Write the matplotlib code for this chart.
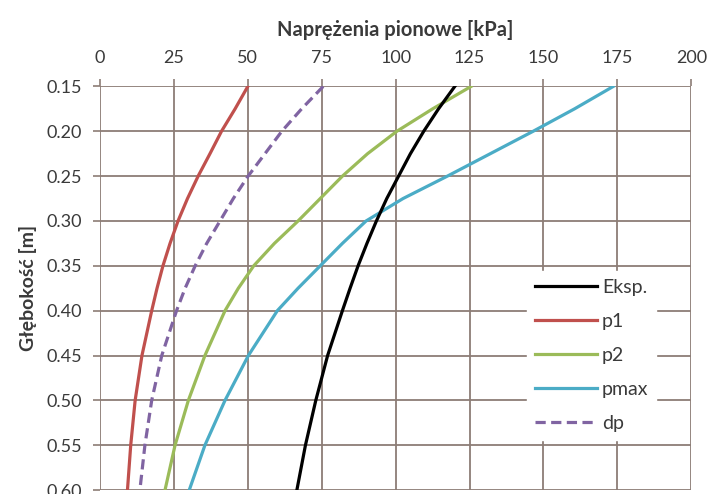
import numpy as np
import matplotlib.pyplot as plt

plt.rcParams['font.family'] = ['Lato', 'DejaVu Sans']

# depth [m]
depth = [0.15, 0.175, 0.20, 0.225, 0.25, 0.275, 0.30, 0.325, 0.35, 0.375,
         0.40, 0.45, 0.50, 0.55, 0.60]

# vertical stresses [kPa]
eksp = [120, 114.5, 109.5, 105, 101, 97, 93.5, 90.3, 87.3, 84.6, 82, 77, 73, 69.5, 66.6]
p1 = [50, 45.7, 41.1, 37.2, 33.2, 29.6, 26.4, 23.7, 21.3, 19.3, 17.5, 14.2, 11.9, 10.4, 9.3]
p2 = [125.5, 112.5, 100.4, 90.5, 82, 74.5, 67, 59, 52, 46.8, 42.3, 35.5, 29.9, 25.4, 22]
pmax = [173.6, 160.5, 146.5, 132, 117.5, 102.5, 90, 82, 74.5, 67, 60, 50.2, 42.3, 35.5, 30.2]
dp = [75.5, 68.2, 61.5, 55.8, 50.1, 45.1, 40.6, 36.1, 32.2, 28.8, 25.9, 20.9, 17.5, 15.2, 13.5]

xticks = [0, 25, 50, 75, 100, 125, 150, 175, 200]
yticks = [0.15, 0.20, 0.25, 0.30, 0.35, 0.40, 0.45, 0.50, 0.55, 0.60]

grid_col = '#8c7d76'
txt_col = '#3a3a3a'

fig = plt.figure(figsize=(7.09, 4.94), dpi=100)
ax = fig.add_axes([0.141, 0.008, 0.834, 0.817])

ax.plot(eksp, depth, color='black', lw=2.3, label='Eksp.', zorder=5)
ax.plot(p1, depth, color='#c0504d', lw=2.3, label='p1', zorder=4)
ax.plot(p2, depth, color='#9bbb59', lw=2.3, label='p2', zorder=4)
ax.plot(pmax, depth, color='#4bacc6', lw=2.3, label='pmax', zorder=4)
ax.plot(dp, depth, color='#8064a2', lw=2.3, ls=(0, (3.2, 1.7)), label='dp', zorder=4)

ax.set_xlim(0, 200)
ax.set_ylim(0.60, 0.15)
ax.set_xticks(xticks)
ax.set_yticks(yticks)
ax.set_yticklabels([f'{v:.2f}' for v in yticks])
ax.xaxis.tick_top()
ax.xaxis.set_label_position('top')
ax.tick_params(axis='both', length=5, width=1.2, color=grid_col, labelsize=13, labelcolor=txt_col)
ax.tick_params(axis='x', pad=10)
ax.tick_params(axis='y', pad=8)
ax.grid(True, color=grid_col, lw=1.3)
ax.set_axisbelow(True)
for s in ax.spines.values():
    s.set_visible(False)

ax.set_xlabel('Naprężenia pionowe [kPa]', fontsize=14.5, fontweight='bold', color=txt_col, labelpad=10)
ax.set_ylabel('Głębokość [m]', fontsize=14, fontweight='bold', color=txt_col, labelpad=6.5)

leg = ax.legend(loc='upper left', bbox_to_anchor=(0.7225, 0.543), frameon=True, fancybox=False,
                edgecolor='white', framealpha=1, fontsize=14, handlelength=3.2,
                handletextpad=0.25, labelspacing=0.88, borderpad=0.4, borderaxespad=0)
for t in leg.get_texts():
    t.set_color(txt_col)

fig.savefig('out.png', dpi=100)
